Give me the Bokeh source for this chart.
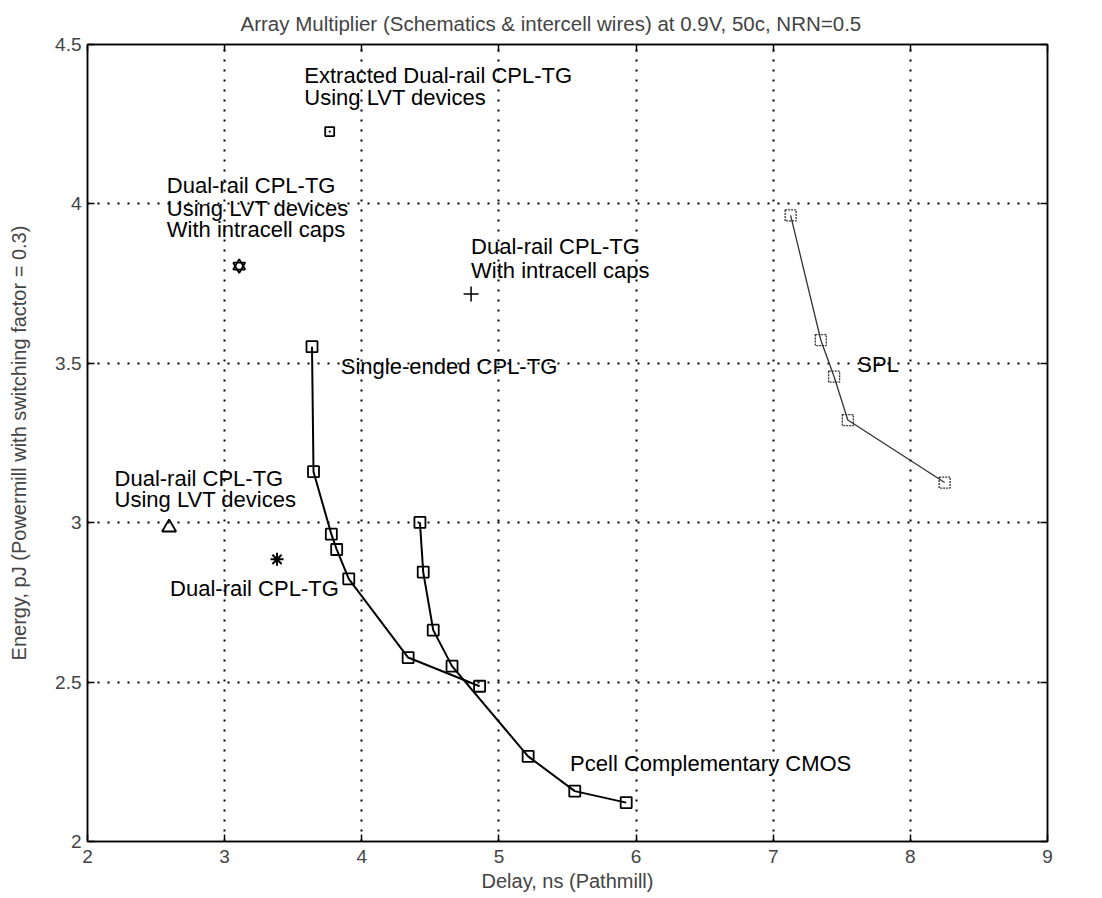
from bokeh.plotting import figure
from bokeh.models import Range1d, FixedTicker, LinearAxis, Label
from bokeh.embed import file_html
from bokeh.resources import INLINE

FONT = "Liberation Sans"

title_text = "Array Multiplier (Schematics & intercell wires) at 0.9V, 50c, NRN=0.5"
x_label = "Delay, ns (Pathmill)"
y_label = "Energy, pJ (Powermill with switching factor = 0.3)"

x_ticks = [2, 3, 4, 5, 6, 7, 8, 9]
x_tick_labels = ["2", "3", "4", "5", "6", "7", "8", "9"]
y_ticks = [2, 2.5, 3, 3.5, 4, 4.5]
y_tick_labels = ["2", "2.5", "3", "3.5", "4", "4.5"]

# Single-ended CPL-TG
single_x = [3.637, 3.648, 3.778, 3.817, 3.905, 4.338, 4.859]
single_y = [3.552, 3.160, 2.964, 2.916, 2.824, 2.577, 2.487]

# Pcell Complementary CMOS
pcell_x = [4.424, 4.448, 4.521, 4.658, 5.213, 5.553, 5.928]
pcell_y = [3.001, 2.845, 2.663, 2.550, 2.267, 2.158, 2.122]

# SPL
spl_x = [7.127, 7.347, 7.444, 7.544, 8.250]
spl_y = [3.964, 3.573, 3.458, 3.322, 3.126]

# single points
extracted_lvt_x = [3.766]
extracted_lvt_y = [4.227]
lvt_caps_x = [3.106]
lvt_caps_y = [3.805]
caps_x = [4.797]
caps_y = [3.717]
lvt_x = [2.595]
lvt_y = [2.985]
dual_x = [3.382]
dual_y = [2.885]

annotations = [
    (3.581, 4.403, "Extracted Dual-rail CPL-TG"),
    (3.581, 4.335, "Using LVT devices"),
    (2.578, 4.057, "Dual-rail CPL-TG"),
    (2.578, 3.986, "Using LVT devices"),
    (2.578, 3.919, "With intracell caps"),
    (4.797, 3.865, "Dual-rail CPL-TG"),
    (4.797, 3.790, "With intracell caps"),
    (3.847, 3.490, "Single-ended CPL-TG"),
    (7.613, 3.495, "SPL"),
    (2.197, 3.140, "Dual-rail CPL-TG"),
    (2.197, 3.074, "Using LVT devices"),
    (2.602, 2.794, "Dual-rail CPL-TG"),
    (5.519, 2.244, "Pcell Complementary CMOS"),
]

p = figure(frame_width=960, frame_height=797,
           x_range=Range1d(2, 9), y_range=Range1d(2, 4.5),
           output_backend="svg", toolbar_location=None,
           min_border_left=87, min_border_right=50,
           min_border_top=44, min_border_bottom=56)

p.title.text = title_text
p.title.text_font = FONT
p.title.text_font_size = "20.5px"
p.title.text_font_style = "normal"
p.title.align = "left"
p.title.offset = 153
p.title.standoff = 19

p.background_fill_color = "white"
p.border_fill_color = "white"
p.outline_line_color = "black"
p.outline_line_width = 1.5

for ax in (p.xaxis[0], p.yaxis[0]):
    ax.major_tick_in = 7
    ax.major_tick_out = 0
    ax.minor_tick_line_color = None
    ax.axis_line_width = 1.5
    ax.major_tick_line_width = 1.5
    ax.major_label_text_font = FONT
    ax.major_label_text_font_size = "19px"
    ax.axis_label_text_font = FONT
    ax.axis_label_text_font_size = "20px"
    ax.axis_label_text_font_style = "normal"

p.xaxis[0].ticker = FixedTicker(ticks=x_ticks)
p.yaxis[0].ticker = FixedTicker(ticks=y_ticks)
p.xaxis[0].major_label_overrides = dict(zip(x_ticks, x_tick_labels))
p.yaxis[0].major_label_overrides = dict(zip(y_ticks, y_tick_labels))
p.xaxis[0].axis_label = x_label
p.yaxis[0].axis_label = y_label
p.xaxis[0].major_label_standoff = 8
p.xaxis[0].axis_label_standoff = 4
p.yaxis[0].major_label_standoff = 6
p.yaxis[0].axis_label_standoff = 22

top = LinearAxis(ticker=FixedTicker(ticks=x_ticks),
                 major_label_overrides={t: "" for t in x_ticks})
right = LinearAxis(ticker=FixedTicker(ticks=y_ticks),
                   major_label_overrides={t: "" for t in y_ticks})
for ax in (top, right):
    ax.major_tick_in = 7
    ax.major_tick_out = 0
    ax.major_label_standoff = 0
    ax.minor_tick_line_color = None
    ax.axis_line_width = 1.5
    ax.major_tick_line_width = 1.5
p.add_layout(top, "above")
p.add_layout(right, "right")

for g in (p.xgrid[0], p.ygrid[0]):
    g.grid_line_color = "black"
    g.grid_line_dash = "2 8"
    g.grid_line_width = 2
    g.grid_line_alpha = 1.0
p.xgrid[0].ticker = FixedTicker(ticks=x_ticks[1:-1])
p.ygrid[0].ticker = FixedTicker(ticks=y_ticks[1:-1])

# curves
p.line(single_x, single_y, line_color="black", line_width=2)
p.scatter(single_x, single_y, marker="square", size=11, fill_color=None,
          line_color="black", line_width=1.8)
p.line(pcell_x, pcell_y, line_color="black", line_width=2)
p.scatter(pcell_x, pcell_y, marker="square", size=11, fill_color=None,
          line_color="black", line_width=1.8)
p.line(spl_x, spl_y, line_color="#333333", line_width=1.3)
p.scatter(spl_x, spl_y, marker="square", size=11, fill_color=None,
          line_color="#333333", line_width=1.3, line_dash="2 1")

# single points
p.scatter(extracted_lvt_x, extracted_lvt_y, marker="square_dot", size=9,
          fill_color=None, line_color="black", line_width=1.8)
p.scatter(lvt_caps_x, lvt_caps_y, marker="triangle", size=12,
          fill_color=None, line_color="black", line_width=1.8)
p.scatter(lvt_caps_x, lvt_caps_y, marker="inverted_triangle", size=12,
          fill_color=None, line_color="black", line_width=1.8)
p.scatter(caps_x, caps_y, marker="cross", size=15, line_color="black",
          line_width=1.5)
p.scatter(lvt_x, lvt_y, marker="triangle", size=14, fill_color=None,
          line_color="black", line_width=1.8)
p.scatter(dual_x, dual_y, marker="asterisk", size=13, line_color="black",
          line_width=2)

for (ax_, ay_, t) in annotations:
    p.add_layout(Label(x=ax_, y=ay_, text=t, text_font=FONT,
                       text_font_size="22px", text_baseline="middle",
                       text_align="left", text_color="black"))

open("out.html", "w").write(file_html(p, INLINE))
